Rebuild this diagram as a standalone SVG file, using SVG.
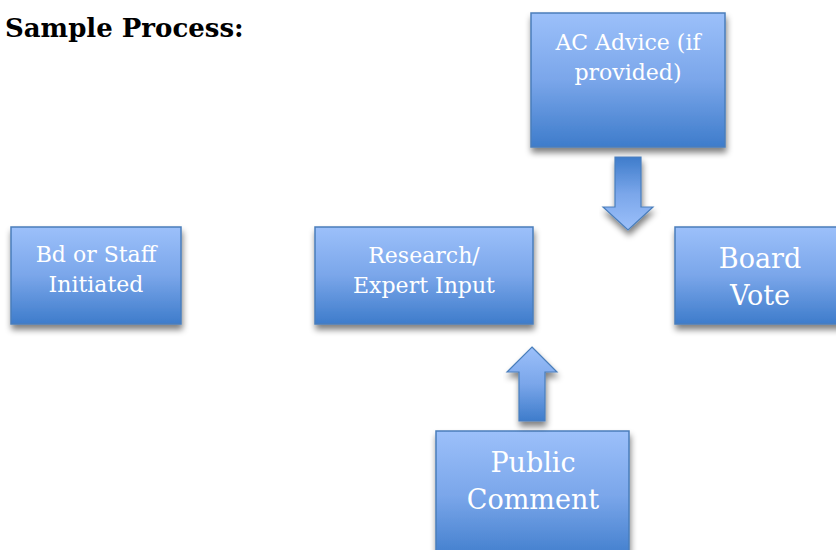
<svg xmlns="http://www.w3.org/2000/svg" width="836" height="550" viewBox="0 0 836 550">
  <defs>
    <linearGradient id="boxFill" x1="0" y1="0" x2="0" y2="1">
      <stop offset="0" stop-color="#9cc0fa"/>
      <stop offset="0.5" stop-color="#7aa6ea"/>
      <stop offset="1" stop-color="#3e7ccb"/>
    </linearGradient>
    <linearGradient id="arrowFillDown" x1="0" y1="0" x2="0" y2="1">
      <stop offset="0" stop-color="#3e7ccb"/>
      <stop offset="0.5" stop-color="#7aa6ea"/>
      <stop offset="1" stop-color="#9cc0fa"/>
    </linearGradient>
    <linearGradient id="arrowFillUp" x1="0" y1="0" x2="0" y2="1">
      <stop offset="0" stop-color="#9cc0fa"/>
      <stop offset="0.5" stop-color="#7aa6ea"/>
      <stop offset="1" stop-color="#3e7ccb"/>
    </linearGradient>
    <filter id="shadow" x="-10%" y="-10%" width="125%" height="135%">
      <feGaussianBlur in="SourceAlpha" stdDeviation="3"/>
      <feOffset dx="1" dy="5" result="blur"/>
      <feComponentTransfer><feFuncA type="linear" slope="0.5"/></feComponentTransfer>
      <feMerge><feMergeNode/><feMergeNode in="SourceGraphic"/></feMerge>
    </filter>
  </defs>
  <style>
    .box { fill: url(#boxFill); stroke: #4a7ebb; stroke-width: 1.5; filter: url(#shadow); }
    .label { fill: #ffffff; font-family: "DejaVu Serif", "Liberation Serif", serif; text-anchor: middle; }
    .s22 { font-size: 22px; }
    .s28 { font-size: 27px; }
    .title { font-family: "DejaVu Serif", "Liberation Serif", serif; font-weight: bold; font-size: 26px; fill: #000000; }
    .arrow { stroke: #4a7ebb; stroke-width: 1.2; filter: url(#shadow); }
  </style>

  <text class="title" x="5" y="37">Sample Process:</text>

  <g id="node-ac-advice">
    <rect class="box" x="531" y="13" width="194" height="134"/>
    <text class="label s22" x="628" y="50">AC Advice (if</text>
    <text class="label s22" x="628" y="80">provided)</text>
  </g>

  <g id="node-bd-staff">
    <rect class="box" x="11" y="227" width="170" height="97"/>
    <text class="label s22" x="96" y="262">Bd or Staff</text>
    <text class="label s22" x="96" y="292">Initiated</text>
  </g>

  <g id="node-research">
    <rect class="box" x="315" y="227" width="218" height="97"/>
    <text class="label s22" x="424" y="263">Research/</text>
    <text class="label s22" x="424" y="293">Expert Input</text>
  </g>

  <g id="node-board-vote">
    <rect class="box" x="675" y="227" width="170" height="97"/>
    <text class="label s28" x="760" y="268">Board</text>
    <text class="label s28" x="760" y="305">Vote</text>
  </g>

  <g id="node-public-comment">
    <rect class="box" x="436" y="431" width="193" height="130"/>
    <text class="label s28" x="533" y="472">Public</text>
    <text class="label s28" x="533" y="509">Comment</text>
  </g>

  <g id="connectors">
    <path class="arrow" fill="url(#arrowFillDown)" d="M615,157 L641,157 L641,207 L653,207 L628,230 L603,207 L615,207 Z"/>
    <path class="arrow" fill="url(#arrowFillUp)" d="M532,347 L557,372 L545,372 L545,421 L519,421 L519,372 L507,372 Z"/>
  </g>
</svg>
